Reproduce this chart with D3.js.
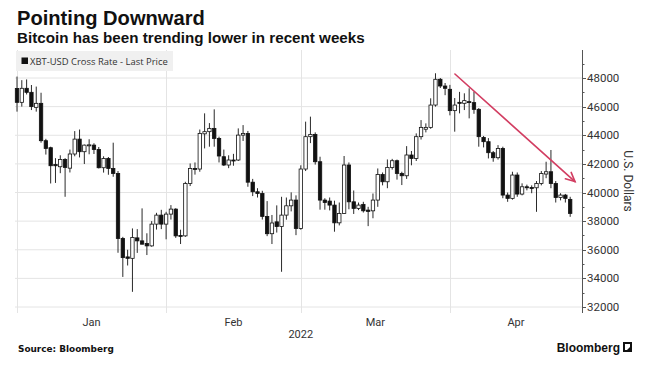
<!DOCTYPE html>
<html><head><meta charset="utf-8">
<script src="https://cdn.jsdelivr.net/npm/d3@7"></script>
<style>
html,body{margin:0;padding:0;background:#fff;}
svg{display:block;}
</style></head>
<body><svg id="chart" width="650" height="370"></svg>
<script>
// ---- data (daily XBT-USD bars, first bar 2021-12-31) ----
const firstBarDate = "2021-12-31";
const openPrices = [47270,46300,47280,47000,45950,46230,43620,43130,41950,41800,42310,41700,42690,43730,42850,43310,43310,43010,41730,42380,41680,41330,36790,35500,35400,36830,36620,36440,36270,37790,38420,37790,38490,38840,37000,36970,40630,41680,41640,44100,44250,44480,43780,42500,41920,42270,42270,44010,44130,40720,40050,39930,38330,37120,37950,37620,38420,39070,39470,37490,41640,43900,44060,42150,39470,39400,39120,37880,38540,41920,39350,38890,39170,38770,38720,39470,41260,40750,41750,42220,41330,41170,42620,42380,43900,44420,44550,46110,47910,47440,47210,45720,46300,46230,46350,46280,45810,43850,43550,42780,42430,43080,39820,39590,41220,39890,40400,40350,40330,40630,41290,41450,40630,39650,39820,39520];
const highPrices = [48100,47850,47900,47510,47400,46970,43750,43200,42400,42600,42400,43000,44290,44400,43350,43720,43440,43180,42530,42480,43480,41500,36900,36000,37490,37440,38890,37150,38000,38580,38790,38650,39120,38900,37400,40750,42030,42100,44400,45530,44850,45810,43900,43000,42600,42700,44480,44710,44300,40950,40300,40120,39400,38430,39100,39700,39650,40010,39800,41900,44950,45300,44200,42500,39600,39650,39430,39300,42550,42100,40140,39300,39350,39000,39930,41680,41400,42310,42350,42300,41450,43240,42900,44130,45060,44830,46580,48330,48000,47650,47520,46600,47030,46930,47280,47050,45900,43950,43800,42900,43310,43200,40000,41450,41400,40640,40550,40500,40800,41500,42150,42970,40800,39950,39900,39700];
const lowPrices = [45650,46000,46850,45760,45650,43480,42650,40630,40670,41350,39700,41400,42530,42450,41990,42670,42690,41680,41390,41240,41100,35790,34100,34900,33060,35780,36370,35630,36210,37410,37440,36730,38110,36830,36400,36900,40450,41250,41450,43080,43200,43200,42100,41850,41700,41870,42200,43600,40400,39750,39650,38110,36950,36400,37200,34460,38100,38680,37020,37400,41500,43450,41950,38800,38800,38750,37260,37700,38500,38830,38500,38770,38600,37650,38200,39000,40500,40300,41600,40900,40520,40950,41900,42200,43700,44200,44450,46000,47300,46800,45390,44250,45530,45760,45180,45500,43200,43150,42380,42150,42300,39600,39350,39500,39700,39800,40150,39950,38650,40500,41000,40300,39300,39450,39300,38300];
const closePrices = [46300,47280,47000,46000,46230,43620,43080,41870,41870,42310,41750,42690,43730,42850,43310,43330,43010,41730,42380,41680,41330,36790,35450,35400,36860,36620,36390,36270,37790,38420,37790,38490,38840,36970,36950,40630,41680,41640,44130,44250,44480,43780,42550,41920,42270,42250,44010,44130,40720,40050,39930,38330,37120,37870,37620,38420,39070,39470,37490,41640,43900,44060,42150,39470,39300,39120,37880,38540,41920,39350,38890,39120,38720,38680,39470,41260,40750,41750,42220,41330,41170,42620,42380,43900,44550,44550,46110,47910,47440,47280,45720,46110,46250,46420,46280,45810,43900,43550,42780,42430,43080,39820,39590,41220,39890,40400,40350,40330,40630,41330,41450,40630,39650,39820,39590,38540];
const yTickValues = [32000,34000,36000,38000,40000,42000,44000,46000,48000];
const monthStarts = ["2022-01-01","2022-02-01","2022-03-01","2022-04-01"];
const monthLabels = ["Jan","Feb","Mar","Apr"];
const yearLabel = "2022";
const trendStart = ["2022-04-02T01:00", 48280];
const trendEnd = ["2022-04-27T00:00", 40760];
const titleText = "Pointing Downward";
const subtitleText = "Bitcoin has been trending lower in recent weeks";
const legendText = "XBT-USD Cross Rate - Last Price";
const yAxisTitle = "U.S. Dollars";
const sourceText = "Source: Bloomberg";

// ---- layout ----
const svg = d3.select("#chart");
const plot = {left: 15, right: 582, top: 50, bottom: 313};
const parse = d3.isoParse;
const x = d3.scaleTime()
  .domain([parse("2022-01-01T00:00"), parse("2022-04-28T11:00")])
  .range([17, 582]);
const y = d3.scaleLinear().domain([32000, 48000]).range([307, 78]);

const bars = openPrices.map((o, i) => ({
  date: d3.timeDay.offset(parse(firstBarDate + "T00:00"), i),
  open: o, high: highPrices[i], low: lowPrices[i], close: closePrices[i]
}));

function fitText(sel, targetWidth, base) {
  const w = sel.node().getComputedTextLength();
  if (w > 0) sel.attr("font-size", (base * targetWidth / w).toFixed(2));
}

// title & subtitle
const t1 = svg.append("text").attr("x", 17).attr("y", 25)
  .attr("font-family", "'Liberation Sans', Arial, sans-serif")
  .attr("font-weight", "bold").attr("font-size", 20).attr("fill", "#111")
  .text(titleText);
fitText(t1, 188, 20);
const t2 = svg.append("text").attr("x", 17).attr("y", 42.5)
  .attr("font-family", "'Liberation Sans', Arial, sans-serif")
  .attr("font-weight", "bold").attr("font-size", 13.5).attr("fill", "#111")
  .text(subtitleText);
fitText(t2, 348, 13.5);

// grid
const grid = svg.append("g");
grid.selectAll("line.h").data(yTickValues).join("line")
  .attr("x1", plot.left).attr("x2", plot.right)
  .attr("y1", d => y(d)).attr("y2", d => y(d))
  .attr("stroke", "#e4e4e4").attr("stroke-width", 1);
grid.selectAll("line.v").data(monthStarts).join("line")
  .attr("x1", d => Math.round(x(parse(d + "T00:00"))) + 0.5)
  .attr("x2", d => Math.round(x(parse(d + "T00:00"))) + 0.5)
  .attr("y1", plot.top).attr("y2", plot.bottom)
  .attr("stroke", "#e4e4e4").attr("stroke-width", 1);

// legend
const lg = svg.append("g");
lg.append("rect").attr("x", 16).attr("y", 51).attr("width", 157).attr("height", 20)
  .attr("fill", "#f0f0f0");
lg.append("rect").attr("x", 21.5).attr("y", 57.5).attr("width", 6.5).attr("height", 6.5)
  .attr("fill", "#111");
const lt = lg.append("text").attr("x", 30).attr("y", 64.5)
  .attr("font-family", "'Open Sans', 'DejaVu Sans', sans-serif")
  .attr("font-size", 9.5).attr("fill", "#333").text(legendText);
fitText(lt, 138, 9.5);

// candles
const cg = svg.append("g");
const bw = 3.4;
const cx = d => x(d3.timeDay.offset(d.date, 1));
cg.selectAll("line.wick").data(bars).join("line")
  .attr("x1", d => cx(d)).attr("x2", d => cx(d))
  .attr("y1", d => y(d.high)).attr("y2", d => y(d.low))
  .attr("stroke", "#2a2a2a").attr("stroke-width", 1);
cg.selectAll("rect.body").data(bars).join("rect")
  .attr("x", d => cx(d) - bw / 2)
  .attr("y", d => y(Math.max(d.open, d.close)))
  .attr("width", bw)
  .attr("height", d => Math.max(1, Math.abs(y(d.open) - y(d.close))))
  .attr("fill", d => d.close >= d.open ? "#fff" : "#111")
  .attr("stroke", "#111").attr("stroke-width", 0.8);

// trend arrow
const ax1 = x(parse(trendStart[0])), ay1 = y(trendStart[1]);
const ax2 = x(parse(trendEnd[0])), ay2 = y(trendEnd[1]);
const ag = svg.append("g").attr("stroke", "#d23e62").attr("fill", "none")
  .attr("stroke-width", 1.6).attr("stroke-linecap", "round");
ag.append("line").attr("x1", ax1).attr("y1", ay1).attr("x2", ax2).attr("y2", ay2);
const ang = Math.atan2(ay2 - ay1, ax2 - ax1);
const hl = 10, ha = Math.PI / 7;
ag.append("path").attr("d",
  `M${ax2 - hl * Math.cos(ang - ha)},${ay2 - hl * Math.sin(ang - ha)}L${ax2},${ay2}L${ax2 - hl * Math.cos(ang + ha)},${ay2 - hl * Math.sin(ang + ha)}`);

// right axis
const axg = svg.append("g");
axg.append("line").attr("x1", plot.right + 0.5).attr("x2", plot.right + 0.5)
  .attr("y1", plot.top).attr("y2", plot.bottom).attr("stroke", "#555");
const minor = d3.range(32000, 49001, 1000);
axg.selectAll("line.mn").data(minor).join("line")
  .attr("x1", plot.right).attr("x2", d => yTickValues.includes(d) ? plot.right + 4 : plot.right + 2.5)
  .attr("y1", d => Math.round(y(d)) + 0.5).attr("y2", d => Math.round(y(d)) + 0.5)
  .attr("stroke", "#555");
axg.selectAll("text").data(yTickValues).join("text")
  .attr("x", 587).attr("y", d => y(d)).attr("dy", "0.35em")
  .attr("font-family", "Roboto, 'Open Sans', sans-serif").attr("font-size", 11.5)
  .attr("fill", "#333").text(d => d);
svg.append("text")
  .attr("transform", `translate(624,181) rotate(90)`)
  .attr("text-anchor", "middle")
  .attr("font-family", "Roboto, 'Open Sans', sans-serif").attr("font-size", 12)
  .attr("fill", "#333").text(yAxisTitle);

// x labels (centered in visible part of each month)
const monthBounds = monthStarts.map(d => x(parse(d + "T00:00"))).concat([plot.right]);
svg.selectAll("text.month").data(monthLabels).join("text")
  .attr("x", (d, i) => (monthBounds[i] + monthBounds[i + 1]) / 2)
  .attr("y", 326).attr("text-anchor", "middle")
  .attr("font-family", "Roboto, 'Open Sans', sans-serif").attr("font-size", 11)
  .attr("fill", "#333").text(d => d);
svg.append("text").attr("x", monthBounds[2]).attr("y", 338).attr("text-anchor", "middle")
  .attr("font-family", "Roboto, 'Open Sans', sans-serif").attr("font-size", 11)
  .attr("fill", "#333").text(yearLabel);

// footer
const st = svg.append("text").attr("x", 18).attr("y", 352)
  .attr("font-family", "'DejaVu Sans', sans-serif").attr("font-weight", "bold")
  .attr("font-size", 9.5).attr("fill", "#111").text(sourceText);
fitText(st, 96, 9.5);
const bt = svg.append("text").attr("x", 620).attr("y", 352).attr("text-anchor", "end")
  .attr("font-family", "'Liberation Sans', Arial, sans-serif").attr("font-weight", "bold")
  .attr("font-size", 12).attr("fill", "#111").text("Bloomberg");
svg.append("rect").attr("x", 623).attr("y", 342).attr("width", 9).attr("height", 10).attr("fill", "#111");
svg.append("path").attr("d", "M625,344L630,344L630,347L627,350L625,350Z").attr("fill", "#fff");
</script>
</body></html>
